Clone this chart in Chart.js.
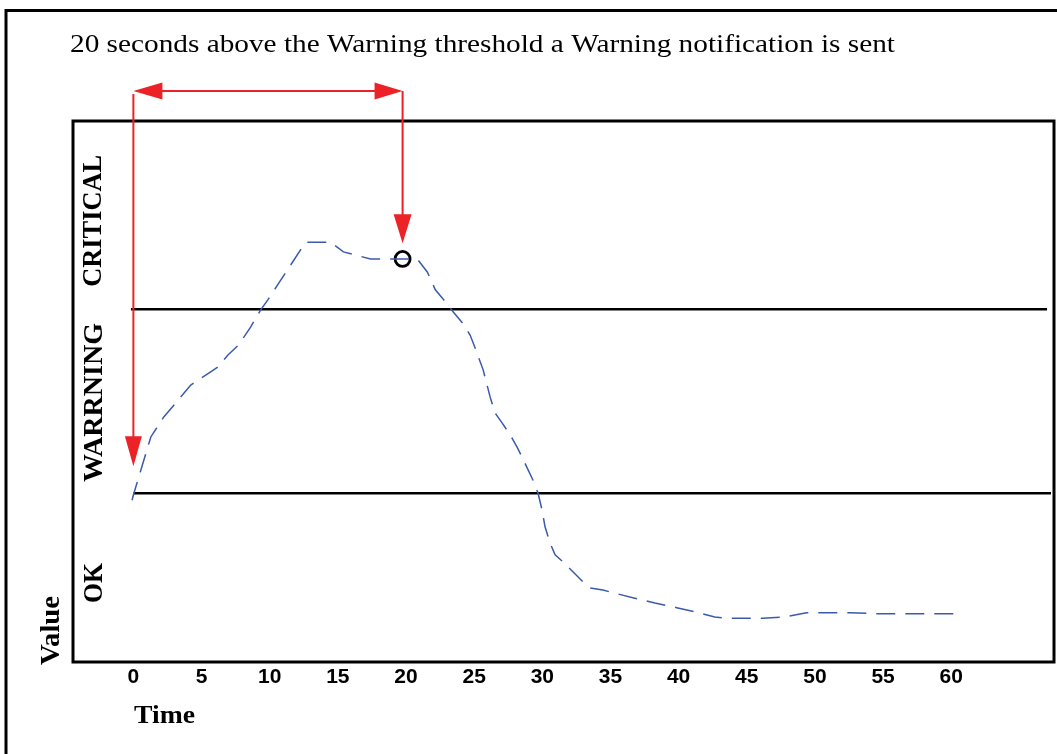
<!DOCTYPE html>
<html>
<head>
<meta charset="utf-8">
<script src="https://cdn.jsdelivr.net/npm/chart.js@4.4.1/dist/chart.umd.min.js"></script>
<style>
html,body{margin:0;padding:0;background:#fff;}
#wrap{width:1057px;height:754px;position:relative;}
</style>
</head>
<body>
<div id="wrap"><canvas id="c" width="1057" height="754"></canvas></div>
<script>
// ---- data ----
const timeSec = [-0.1, 0.04, 0.55, 1.28, 2.23, 3.11, 4.21, 5.53, 6.19, 6.92, 7.72, 8.6, 9.34, 9.85, 10.58, 11.31, 12.63, 14.46, 15.41, 17.39, 20.83, 21.56, 22.15, 22.66, 23.47, 24.13, 24.71, 25.08, 25.66, 26.17, 26.54, 27.05, 27.64, 28.15, 28.37, 29.32, 29.69, 29.98, 30.2, 30.57, 30.94, 31.52, 32.99, 33.5, 34.45, 35.18, 36.79, 38.26, 39.94, 41.33, 42.65, 43.53, 46.17, 47.77, 49.38, 52.53, 54.95, 60.59];
const values  = [29.9, 31.2, 35.5, 41.6, 45.3, 47.9, 51.2, 53.4, 54.5, 56.7, 58.6, 61.9, 65.1, 66.9, 69.7, 72.5, 77.6, 77.6, 75.8, 74.5, 74.5, 72.1, 68.8, 67.3, 64.7, 62.7, 60.4, 58.0, 54.0, 49.0, 46.0, 44.2, 42.0, 39.7, 38.6, 33.6, 31.2, 28.1, 25.0, 22.0, 19.8, 18.5, 14.8, 13.7, 13.3, 12.8, 11.8, 10.9, 10.0, 9.2, 8.3, 8.1, 8.1, 8.3, 9.1, 9.1, 8.9, 8.9];
const xTicks = [0, 5, 10, 15, 20, 25, 30, 35, 40, 45, 50, 55, 60];
const warningLevel = 31.2;
const criticalLevel = 65.2;
const warningLineX = [0.01, 67.32];
const criticalLineX = [-0.18, 67.03];
const notifyTime = 19.75;
const notifyValue = 74.5;
const startArrowTipValue = 36.2;
const notifyArrowTipValue = 77.4;
const zoneLabels = ['OK', 'WARRNING', 'CRITICAL'];
const titleText = '20 seconds above the Warning threshold a Warning notification is sent';
const xTitle = 'Time';
const yTitle = 'Value';

// ---- build ----
const curve = timeSec.map((t, i) => ({x: t, y: values[i]}));
const RED = '#ec2227';
const BLUE = '#3a5aab';
const SERIF = "'Liberation Serif', 'DejaVu Serif', serif";

function fitText(ctx, text, font, x, y, width, rot) {
  ctx.save();
  ctx.font = font;
  ctx.translate(x, y);
  ctx.rotate(rot);
  ctx.textAlign = 'left';
  ctx.textBaseline = 'alphabetic';
  const w = ctx.measureText(text).width;
  ctx.scale(width / w, 1);
  ctx.fillStyle = '#000';
  ctx.fillText(text, 0, 0);
  ctx.restore();
}

function arrowHead(ctx, tipX, tipY, dirX, dirY, len, half) {
  const bx = tipX - dirX * len, by = tipY - dirY * len;
  const px = -dirY, py = dirX;
  ctx.beginPath();
  ctx.moveTo(tipX, tipY);
  ctx.lineTo(bx + px * half, by + py * half);
  ctx.lineTo(bx - px * half, by - py * half);
  ctx.closePath();
  ctx.fill();
}

const deco = {
  id: 'deco',
  beforeDraw(chart) {
    const ctx = chart.ctx;
    ctx.save();
    ctx.fillStyle = '#fff';
    ctx.fillRect(0, 0, chart.width, chart.height);
    ctx.restore();
  },
  afterDraw(chart) {
    const ctx = chart.ctx;
    const xs = chart.scales.x, ys = chart.scales.y;
    const a = chart.chartArea;
    ctx.save();
    // outer frame
    ctx.strokeStyle = '#000';
    ctx.lineWidth = 3;
    ctx.strokeRect(6, 10.5, 1200, 900);
    // plot frame
    ctx.strokeRect(a.left, a.top, a.right - a.left, a.bottom - a.top);

    // red arrows
    const x0 = xs.getPixelForValue(0);
    const x1 = xs.getPixelForValue(notifyTime);
    const yTop = 91;
    const tip0 = ys.getPixelForValue(startArrowTipValue);
    const tip1 = ys.getPixelForValue(notifyArrowTipValue);
    ctx.strokeStyle = RED; ctx.fillStyle = RED; ctx.lineWidth = 2;
    ctx.beginPath();
    ctx.moveTo(x0 + 20, yTop); ctx.lineTo(x1 - 20, yTop);
    ctx.moveTo(x0, yTop + 3); ctx.lineTo(x0, tip0 - 20);
    ctx.moveTo(x1, yTop); ctx.lineTo(x1, tip1 - 20);
    ctx.stroke();
    arrowHead(ctx, x0, yTop, -1, 0, 29, 8.5);
    arrowHead(ctx, x1, yTop, 1, 0, 28, 8.5);
    arrowHead(ctx, x0, tip0, 0, 1, 30, 8.5);
    arrowHead(ctx, x1, tip1, 0, 1, 29, 9);

    // texts
    ctx.fillStyle = '#000';
    fitText(ctx, titleText, "26px " + SERIF, 70, 52, 825, 0);
    const bold = "bold 28px " + SERIF;
    fitText(ctx, zoneLabels[2], bold, 100.8, 286.7, 131.7, -Math.PI / 2);
    fitText(ctx, zoneLabels[1], bold, 101.5, 482, 159, -Math.PI / 2);
    fitText(ctx, zoneLabels[0], bold, 101.5, 603, 40, -Math.PI / 2);
    fitText(ctx, yTitle, "bold 27px " + SERIF, 59, 665, 69, -Math.PI / 2);
    fitText(ctx, xTitle, "bold 26px " + SERIF, 134, 723, 61, 0);
    ctx.restore();
  }
};

new Chart(document.getElementById('c'), {
  type: 'scatter',
  data: {
    datasets: [
      {
        data: curve, showLine: true, borderColor: BLUE, borderWidth: 1.5,
        borderDash: [19, 10], pointRadius: 0, tension: 0, fill: false
      },
      {
        data: criticalLineX.map(x => ({x, y: criticalLevel})), showLine: true,
        borderColor: '#000', borderWidth: 2.5, pointRadius: 0
      },
      {
        data: warningLineX.map(x => ({x, y: warningLevel})), showLine: true,
        borderColor: '#000', borderWidth: 2.5, pointRadius: 0
      },
      {
        data: [{x: notifyTime, y: notifyValue}], showLine: false,
        pointRadius: 7.5, pointBorderWidth: 2.8, pointBorderColor: '#000',
        pointBackgroundColor: 'rgba(0,0,0,0)', pointHoverRadius: 7.5
      }
    ]
  },
  options: {
    responsive: false,
    devicePixelRatio: 1,
    animation: false,
    layout: {autoPadding: false, padding: {left: 73, right: 3, top: 121, bottom: 0}},
    plugins: {legend: {display: false}, tooltip: {enabled: false}, title: {display: false}},
    scales: {
      x: {
        type: 'linear', min: -4.43, max: 67.54,
        grid: {display: false, drawTicks: false},
        border: {display: false},
        afterBuildTicks: s => { s.ticks = xTicks.map(v => ({value: v})); },
        afterFit: s => { s.height = 92; s.paddingLeft = 0; s.paddingRight = 0; },
        ticks: {
          autoSkip: false, maxRotation: 0, padding: 3, color: '#000',
          font: {family: "'Liberation Sans', Arial, sans-serif", weight: 'bold', size: 21}
        }
      },
      y: {type: 'linear', min: 0, max: 100, display: false}
    }
  },
  plugins: [deco]
});
</script>
</body>
</html>
